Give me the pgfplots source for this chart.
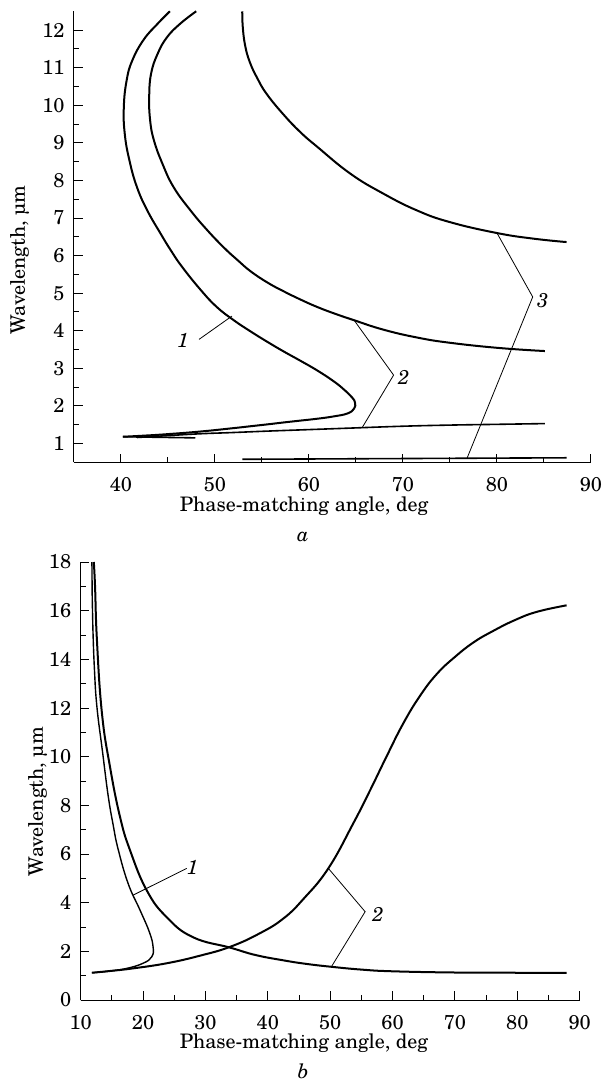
\documentclass[border=0pt]{standalone}
\usepackage{fontspec}
\setmainfont{TeX Gyre Schola}
\usepackage{pgfplots}
\pgfplotsset{compat=1.18}
\tikzset{leader/.style={line width=0.4pt}}
\pgfplotsset{
  curve/.style={line width=1pt, smooth, tension=0.75, mark=none},
  phase axis/.style={
    scale only axis,
    axis x line*=bottom, axis y line*=left,
    axis line style={line width=0.5pt},
    tick align=inside,
    tick style={line width=0.5pt, black},
    major tick length=4.3pt, minor tick length=2.5pt,
    minor tick num=1,
    clip=false,
    font=\fontsize{10}{12}\selectfont,
    /pgf/number format/assume math mode=true,
    xticklabel style={yshift=-4pt},
    yticklabel style={xshift=-1.2pt},
    xlabel={Phase-matching angle, deg},
    ylabel={Wavelength, µm},
    every axis x label/.style={anchor=base},
    every axis y label/.style={rotate=90, anchor=base},
  },
}
\begin{document}
\begin{tikzpicture}
\useasboundingbox (-37pt,-309.35pt) rectangle (264.5pt,231.15pt);

% panel a
\begin{axis}[phase axis,
  at={(0,0)}, anchor=south west,
  width=258.5pt, height=225.5pt,
  xmin=35, xmax=90, ymin=0.5, ymax=12.5,
  xtick={40,50,...,90}, ytick={1,2,...,12},
  xlabel style={at={(axis description cs:0.445,-0.1095)}},
  ylabel style={at={(axis description cs:-0.0948,0.449)}},
]
% 1
\addplot[curve] coordinates {
(45.2,12.5) (43.9,12.17) (42.4,11.74) (41.2,11.19) (40.6,10.66) (40.3,9.95)
(40.4,9.24) (40.9,8.53) (41.7,7.82) (42.8,7.20) (44.2,6.59) (45.3,6.14)
(46.5,5.70) (48.5,5.08) (50.2,4.63) (52.0,4.28) (53.8,3.98) (55.6,3.70)
(57.3,3.45) (59.1,3.20) (60.9,2.94) (62.6,2.66) (63.7,2.44) (64.6,2.22)
(64.9,2.08) (64.8,1.93) (64.1,1.80) (62.6,1.72) (60.9,1.66) (59.1,1.61)
(57.3,1.56) (55.6,1.51) (53.8,1.46) (52.0,1.41) (48.5,1.32) (45.0,1.25)
(42.5,1.21) (40.2,1.18)
};
\addplot[curve, line width=0.8pt, sharp plot] coordinates {(40.2,1.18) (47.9,1.15)};
% 2
\addplot[curve] coordinates {
(48.0,12.5) (46.3,12.17) (44.9,11.81) (43.9,11.37) (43.2,10.84) (43.0,10.22)
(43.1,9.60) (43.5,9.07) (44.4,8.45) (45.6,7.82) (47.4,7.20) (49.2,6.67)
(51.0,6.20) (52.4,5.88) (53.8,5.58) (55.6,5.28) (57.3,5.05) (59.1,4.83)
(60.9,4.63) (62.8,4.45) (64.8,4.28) (67.9,4.03) (71.5,3.82) (75.0,3.68)
(80.3,3.54) (85.1,3.46)
};
\addplot[curve, line width=0.8pt] coordinates {
(41.7,1.16) (45.0,1.21) (48.5,1.26) (51.7,1.29) (55.6,1.33) (60.0,1.37)
(64.4,1.41) (70.0,1.46) (75.0,1.49) (80.0,1.51) (85.1,1.53)
};
% 3
\addplot[curve] coordinates {
(52.9,12.5) (52.95,12.1) (53.2,11.6) (53.7,11.15) (54.5,10.72) (55.5,10.30)
(57.3,9.75) (59.1,9.28) (60.9,8.89) (64.4,8.18) (67.9,7.65) (71.5,7.20)
(75.0,6.89) (80.0,6.60) (83.9,6.45) (87.4,6.36)
};
\addplot[curve, line width=0.8pt] coordinates {(52.9,0.58) (70.0,0.60) (87.4,0.62)};

\draw[leader] (axis cs:48.3,3.77) -- (axis cs:51.8,4.39);
\node[font=\itshape] at (axis cs:46.6,3.75) {1};
\draw[leader] (axis cs:64.8,4.28) -- (axis cs:69.0,2.82) -- (axis cs:65.7,1.44);
\node[font=\itshape] at (axis cs:70.1,2.77) {2};
\draw[leader] (axis cs:80.0,6.60) -- (axis cs:83.8,4.90) -- (axis cs:76.8,0.60);
\node[font=\itshape] at (axis cs:84.9,4.79) {3};
\node[font=\itshape, anchor=base] at (axis description cs:0.443,-0.176) {a};
\end{axis}

% panel b
\begin{axis}[phase axis,
  at={(3.35pt,-268.85pt)}, anchor=south west,
  width=249.5pt, height=219pt,
  xmin=10, xmax=90, ymin=0, ymax=18,
  xtick={10,20,...,90}, ytick={0,2,...,18},
  xlabel style={at={(axis description cs:0.4475,-0.111)}},
  ylabel style={at={(axis description cs:-0.0756,0.453)}},
]
% 1
\addplot[curve, line width=0.7pt] coordinates {
(11.8,18.0) (11.85,16.5) (11.95,15.3) (12.2,13.6) (12.6,12.05) (13.5,10.2)
(14.4,8.4) (15.2,7.2) (16.0,6.2) (17.6,4.79) (19.5,3.70) (21.0,2.80)
(21.6,2.19) (21.4,1.78) (20.0,1.51) (17.4,1.30) (14.7,1.19) (11.8,1.12)
};
% 2
\addplot[curve] coordinates {
(12.1,18.0) (12.3,17.0) (12.6,14.8) (13.4,11.8) (14.7,9.58) (16.3,7.53)
(17.9,6.16) (20.6,4.50) (23.8,3.40) (28.0,2.58) (34.0,2.15) (38.0,1.85)
(42.5,1.63) (46.0,1.49) (50.0,1.37) (55.0,1.25) (60.0,1.18) (70.0,1.13)
(80.0,1.12) (87.9,1.12)
};
\addplot[curve] coordinates {
(11.8,1.12) (15.0,1.20) (18.4,1.30) (23.8,1.51) (29.1,1.82) (34.0,2.19)
(38.7,2.74) (42.5,3.35) (45.7,4.15) (49.7,5.41) (53.7,7.26) (56.4,8.62)
(59.0,9.99) (61.7,11.36) (64.4,12.50) (67.1,13.40) (70.0,14.10)
(73.0,14.70) (76.0,15.15) (79.5,15.60) (83.1,15.95) (87.9,16.22)
};

\draw[leader] (axis cs:18.4,4.31) -- (axis cs:27.0,5.41);
\node[font=\itshape] at (axis cs:27.9,5.44) {1};
\draw[leader] (axis cs:49.7,5.41) -- (axis cs:55.6,3.63) -- (axis cs:50.2,1.37);
\node[font=\itshape] at (axis cs:57.7,3.51) {2};
\node[font=\itshape, anchor=base] at (axis description cs:0.446,-0.180) {b};
\end{axis}
\end{tikzpicture}
\end{document}
